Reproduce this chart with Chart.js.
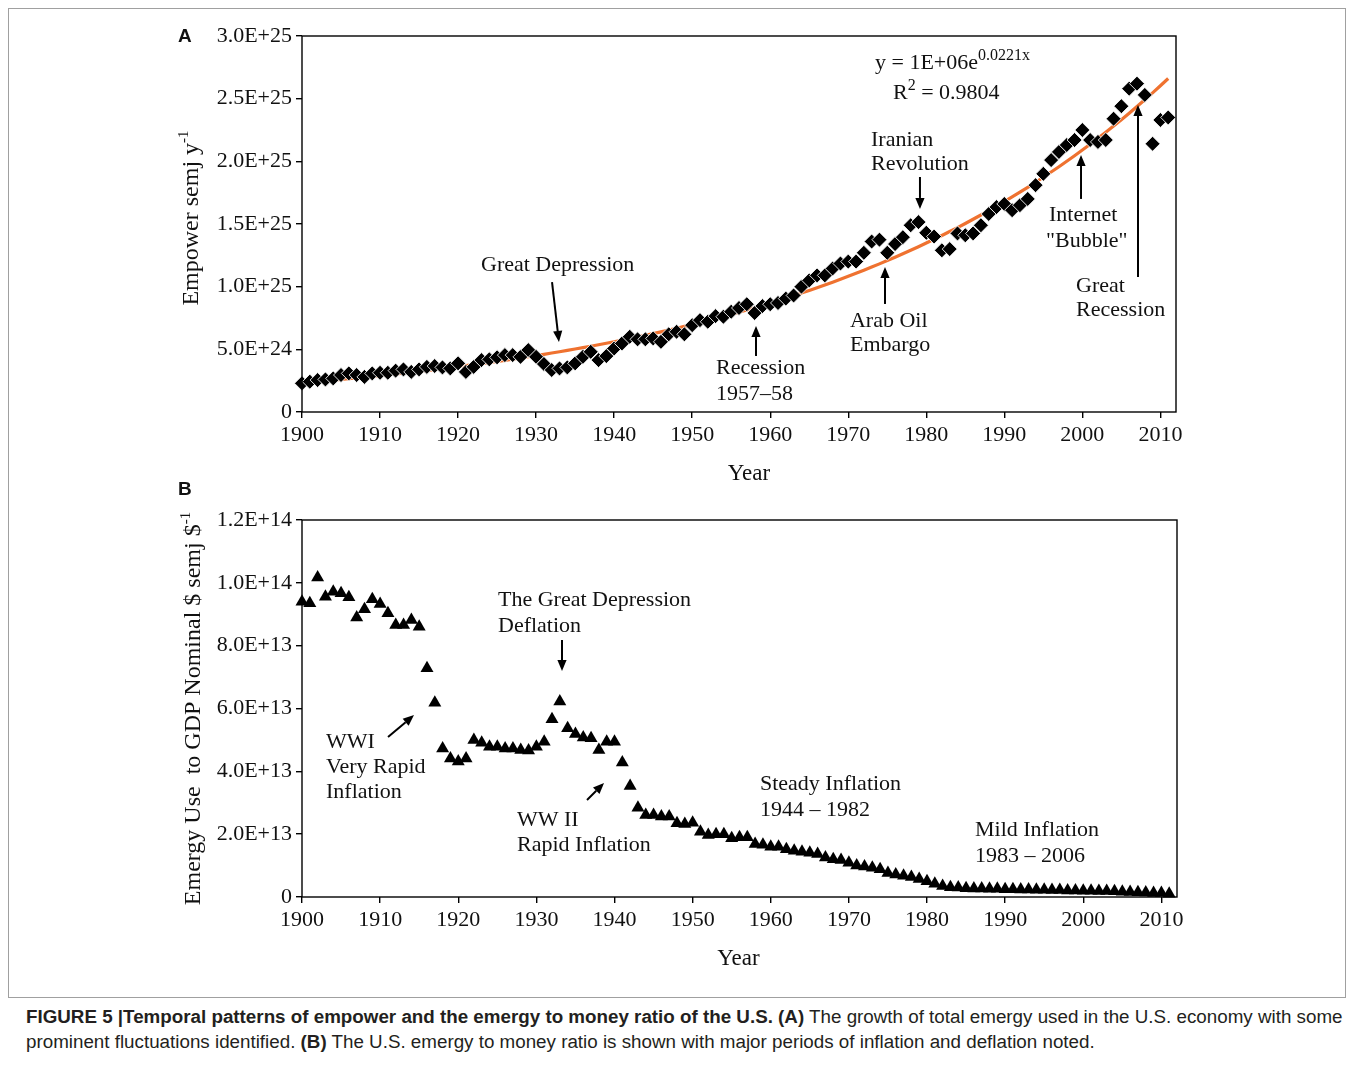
<!DOCTYPE html>
<html><head><meta charset="utf-8">
<script src="https://cdn.jsdelivr.net/npm/chart.js@4.4.0/dist/chart.umd.min.js"></script>
<style>
html,body{margin:0;padding:0;background:#fff;}
body{width:1354px;height:1066px;position:relative;overflow:hidden;}
#frame{position:absolute;left:8px;top:8px;width:1338px;height:990px;border:1px solid #a0a0a0;box-sizing:border-box;}
canvas{position:absolute;left:0;}
#cA{top:0;} #cB{top:500px;}
.cap{position:absolute;left:26px;font-family:"Liberation Sans",Arial,sans-serif;font-size:18.8px;color:#231f20;white-space:nowrap;}
.lbl{position:absolute;font-family:"Liberation Sans",Arial,sans-serif;font-weight:bold;font-size:19px;color:#111;}
</style></head>
<body>
<div id="frame"></div>
<canvas id="cA" width="1354" height="500"></canvas>
<canvas id="cB" width="1354" height="500"></canvas>
<div class="lbl" style="left:178px;top:25px">A</div>
<div class="lbl" style="left:178px;top:478px">B</div>
<div class="cap" style="top:1006px"><b>FIGURE 5 |Temporal patterns of empower and the emergy to money ratio of the U.S. (A)</b> The growth of total emergy used in the U.S. economy with some</div>
<div class="cap" style="top:1031px">prominent fluctuations identified. <b>(B)</b> The U.S. emergy to money ratio is shown with major periods of inflation and deflation noted.</div>
<script>
// ---------------- DATA ----------------
const FIRST_YEAR = 1900;
// Panel A: Empower, in units of 1E+24 semj/y (1900..2011)
const empower = [
 2.29,2.42,2.55,2.60,2.68,2.95,3.08,2.95,2.80,3.08,
 3.13,3.13,3.30,3.40,3.20,3.40,3.60,3.67,3.56,3.48,
 3.88,3.20,3.60,4.14,4.20,4.36,4.54,4.54,4.40,4.94,
 4.40,3.83,3.35,3.48,3.56,3.88,4.40,4.80,4.14,4.46,
 5.07,5.47,6.00,5.80,5.80,5.87,5.60,6.20,6.40,6.20,
 6.93,7.33,7.20,7.65,7.60,8.00,8.30,8.60,7.90,8.45,
 8.60,8.70,9.05,9.30,10.0,10.5,10.9,10.9,11.45,11.85,
 12.0,12.0,12.7,13.6,13.75,12.7,13.4,13.95,14.9,15.15,
 14.3,14.0,12.9,13.0,14.25,14.1,14.25,14.9,15.8,16.35,
 16.6,16.1,16.5,17.0,18.1,19.0,20.1,20.75,21.3,21.7,
 22.5,21.7,21.55,21.7,23.4,24.4,25.8,26.2,25.3,21.4,
 23.3,23.5
];
// Panel B: Emergy use to GDP, in units of 1E+13 semj/$ (1900..2011)
const emRatio = [
 9.40,9.35,10.17,9.56,9.72,9.67,9.54,8.90,9.16,9.48,
 9.33,9.03,8.66,8.66,8.82,8.60,7.28,6.18,4.73,4.41,
 4.31,4.41,5.00,4.91,4.78,4.78,4.73,4.73,4.68,4.66,
 4.78,4.94,5.66,6.22,5.37,5.19,5.08,5.05,4.68,4.94,
 4.94,4.28,3.53,2.84,2.61,2.61,2.56,2.56,2.35,2.32,
 2.36,2.08,1.97,2.00,2.00,1.87,1.90,1.90,1.69,1.66,
 1.60,1.60,1.52,1.47,1.44,1.41,1.37,1.26,1.20,1.18,
 1.09,1.00,0.97,0.93,0.88,0.76,0.72,0.68,0.64,0.57,
 0.50,0.42,0.35,0.31,0.30,0.28,0.27,0.27,0.26,0.26,
 0.25,0.25,0.24,0.24,0.23,0.23,0.22,0.22,0.21,0.21,
 0.20,0.20,0.19,0.19,0.18,0.17,0.16,0.15,0.14,0.13,
 0.13,0.10
];
const xTickValues = [1900,1910,1920,1930,1940,1950,1960,1970,1980,1990,2000,2010];
const xTickLabels = ['1900','1910','1920','1930','1940','1950','1960','1970','1980','1990','2000','2010'];
const yTickValuesA = [0,5,10,15,20,25,30];
const yTickLabelsA = ['0','5.0E+24','1.0E+25','1.5E+25','2.0E+25','2.5E+25','3.0E+25'];
const yTickValuesB = [0,2,4,6,8,10,12];
const yTickLabelsB = ['0','2.0E+13','4.0E+13','6.0E+13','8.0E+13','1.0E+14','1.2E+14'];

// annotations in data coordinates
const annotA = {
  texts: [
    {x:1973.43, y:27.37, parts:[{t:'y = 1E+06e'},{t:'0.0221x', size:16, rise:9}]},
    {x:1975.73, y:24.97, parts:[{t:'R'},{t:'2', size:16, rise:9},{t:' = 0.9804'}]},
    {x:1972.92, y:21.19, parts:[{t:'Iranian'}]},
    {x:1972.92, y:19.31, parts:[{t:'Revolution'}]},
    {x:1922.94, y:11.25, parts:[{t:'Great Depression'}]},
    {x:1953.05, y:3.03, parts:[{t:'Recession'}]},
    {x:1953.05, y:0.96, parts:[{t:'1957\u201358'}]},
    {x:1970.22, y:6.78, parts:[{t:'Arab Oil'}]},
    {x:1970.22, y:4.87, parts:[{t:'Embargo'}]},
    {x:1995.73, y:15.24, parts:[{t:'Internet'}]},
    {x:1995.34, y:13.17, parts:[{t:'"Bubble"'}]},
    {x:1999.19, y:9.57, parts:[{t:'Great'}]},
    {x:1999.19, y:7.66, parts:[{t:'Recession'}]}
  ],
  arrows: [
    {x1:1979.19, y1:18.75, x2:1979.19, y2:16.2},
    {x1:1932.04, y1:10.37, x2:1932.93, y2:5.59},
    {x1:1958.18, y1:4.47, x2:1958.18, y2:6.86},
    {x1:1974.71, y1:8.62, x2:1974.71, y2:11.57},
    {x1:1999.83, y1:17.0, x2:1999.83, y2:20.51},
    {x1:2007.13, y1:10.77, x2:2007.13, y2:24.5}
  ]
};
const annotB = {
  texts: [
    {x:1925.09, y:9.26, parts:[{t:'The Great Depression'}]},
    {x:1925.09, y:8.43, parts:[{t:'Deflation'}]},
    {x:1903.07, y:4.74, parts:[{t:'WWI'}]},
    {x:1903.07, y:3.95, parts:[{t:'Very Rapid'}]},
    {x:1903.07, y:3.15, parts:[{t:'Inflation'}]},
    {x:1927.52, y:2.26, parts:[{t:'WW II'}]},
    {x:1927.52, y:1.46, parts:[{t:'Rapid Inflation'}]},
    {x:1958.62, y:3.41, parts:[{t:'Steady Inflation'}]},
    {x:1958.62, y:2.58, parts:[{t:'1944 \u2013 1982'}]},
    {x:1986.14, y:1.94, parts:[{t:'Mild Inflation'}]},
    {x:1986.14, y:1.11, parts:[{t:'1983 \u2013 2006'}]}
  ],
  arrows: [
    {x1:1933.28, y1:8.18, x2:1933.28, y2:7.19},
    {x1:1911.01, y1:5.09, x2:1914.34, y2:5.79},
    {x1:1936.48, y1:3.09, x2:1938.66, y2:3.63}
  ]
};

// ---------------- helpers ----------------
const SERIF = '"Liberation Serif","Times New Roman",serif';
const font = (s) => s + 'px ' + SERIF;
function richWidth(ctx, parts, base){ let w=0; for(const p of parts){ ctx.font=font(p.size||base); w+=ctx.measureText(p.t).width; } return w; }
function drawRich(ctx, x, y, parts, base, align){
  let cx = align==='center' ? x - richWidth(ctx, parts, base)/2 : x;
  for(const p of parts){ ctx.font=font(p.size||base); ctx.fillText(p.t, cx, y-(p.rise||0)); cx += ctx.measureText(p.t).width; }
}
function arrow(ctx, x1,y1,x2,y2){
  const ang=Math.atan2(y2-y1,x2-x1), L=11, W=4.6;
  const bx=x2-L*Math.cos(ang), by=y2-L*Math.sin(ang);
  ctx.beginPath(); ctx.moveTo(x1,y1); ctx.lineTo(bx,by); ctx.lineWidth=2; ctx.strokeStyle='#000'; ctx.stroke();
  ctx.beginPath(); ctx.moveTo(x2,y2);
  ctx.lineTo(bx+W*Math.sin(ang), by-W*Math.cos(ang));
  ctx.lineTo(bx-W*Math.sin(ang), by+W*Math.cos(ang));
  ctx.closePath(); ctx.fillStyle='#000'; ctx.fill();
}
function makeDecor(annot, titles){
  return {
    id:'decor',
    afterDatasetsDraw(chart){
      const ctx=chart.ctx, a=chart.chartArea, sx=chart.scales.x, sy=chart.scales.y;
      ctx.save();
      ctx.strokeStyle='#000'; ctx.lineWidth=1.4;
      ctx.strokeRect(a.left, a.top, a.right-a.left, a.bottom-a.top);
      ctx.fillStyle='#111'; ctx.textBaseline='alphabetic'; ctx.textAlign='left';
      for(const t of annot.texts){ drawRich(ctx, sx.getPixelForValue(t.x), sy.getPixelForValue(t.y), t.parts, 22, 'left'); }
      for(const r of annot.arrows){ arrow(ctx, sx.getPixelForValue(r.x1), sy.getPixelForValue(r.y1), sx.getPixelForValue(r.x2), sy.getPixelForValue(r.y2)); }
      // x title
      ctx.fillStyle='#111';
      drawRich(ctx, (a.left+a.right)/2 + titles.xdx, a.bottom + 68, [{t:'Year'}], 23, 'center');
      // y title
      ctx.save();
      ctx.translate(titles.ybx, (a.top+a.bottom)/2 + titles.ydy);
      ctx.rotate(-Math.PI/2);
      drawRich(ctx, 0, 0, titles.yparts, 24, 'center');
      ctx.restore();
      ctx.restore();
    }
  };
}
function axisCfg(tickVals, tickLabels, min, max, fit){
  return {
    type:'linear', min:min, max:max,
    afterBuildTicks: s => { s.ticks = tickVals.map(v => ({value:v})); },
    ticks:{ autoSkip:false, maxRotation:0, padding:4, color:'#111',
      font:{family:SERIF, size:22},
      callback:(v,i)=> tickLabels[i] },
    grid:{ display:true, drawOnChartArea:false, drawTicks:true, tickLength:6, color:'#000', lineWidth:1.4 },
    border:{ display:false },
    afterFit: fit
  };
}
const years = empower.map((_, i) => FIRST_YEAR + i);
const yearsB = emRatio.map((_, i) => FIRST_YEAR + i);

// Exponential least-squares trendline (as fitted in the original) computed from the data
const lnV = empower.map(v => Math.log(v));
const mx = years.reduce((s,v)=>s+v,0)/years.length;
const my = lnV.reduce((s,v)=>s+v,0)/lnV.length;
let sxy=0, sxx=0;
years.forEach((x,i)=>{ sxy+=(x-mx)*(lnV[i]-my); sxx+=(x-mx)*(x-mx); });
const slope = sxy/sxx, icpt = my - slope*mx;
const trend = years.map(x => ({x:x, y:Math.exp(icpt + slope*x)}));

// ---------------- Chart A ----------------
new Chart(document.getElementById('cA'), {
  type:'scatter',
  data:{ datasets:[
    { label:'Empower', data: years.map((x,i)=>({x:x, y:empower[i]})), pointStyle:'rectRot', pointRadius:7.5,
      backgroundColor:'#000', borderColor:'rgba(255,255,255,0.85)', borderWidth:1, clip:false, order:0 },
    { label:'Trend', type:'line', data: trend, borderColor:'#EF7230', borderWidth:3.2, pointRadius:0,
      fill:false, tension:0, clip:false, order:1 }
  ]},
  options:{
    responsive:false, animation:false, events:[],
    plugins:{ legend:{display:false}, tooltip:{enabled:false} },
    layout:{ padding:{ top:36, right:178, left:0, bottom:0 } },
    scales:{
      x: axisCfg(xTickValues, xTickLabels, 1900, 2012, s => { s.height = 88; }),
      y: axisCfg(yTickValuesA, yTickLabelsA, 0, 30, s => { s.width = 302; })
    }
  },
  plugins:[ makeDecor(annotA, { xdx:10, ybx:198, ydy:-6,
    yparts:[{t:'Empower semj y'},{t:'-1', size:15, rise:10}] }) ]
});

// ---------------- Chart B ----------------
new Chart(document.getElementById('cB'), {
  type:'scatter',
  data:{ datasets:[
    { label:'Emergy/GDP', data: yearsB.map((x,i)=>({x:x, y:emRatio[i]})), pointStyle:'triangle', pointRadius:7.5,
      backgroundColor:'#000', borderColor:'#000', borderWidth:0, clip:false }
  ]},
  options:{
    responsive:false, animation:false, events:[],
    plugins:{ legend:{display:false}, tooltip:{enabled:false} },
    layout:{ padding:{ top:20, right:177, left:0, bottom:0 } },
    scales:{
      x: axisCfg(xTickValues, xTickLabels, 1900, 2012, s => { s.height = 103; }),
      y: axisCfg(yTickValuesB, yTickLabelsB, 0, 12, s => { s.width = 302; })
    }
  },
  plugins:[ makeDecor(annotB, { xdx:-1, ybx:200, ydy:0,
    yparts:[{t:'Emergy Use  to GDP Nominal $ semj $'},{t:'-1', size:15, rise:10}] }) ]
});
</script>
</body></html>
